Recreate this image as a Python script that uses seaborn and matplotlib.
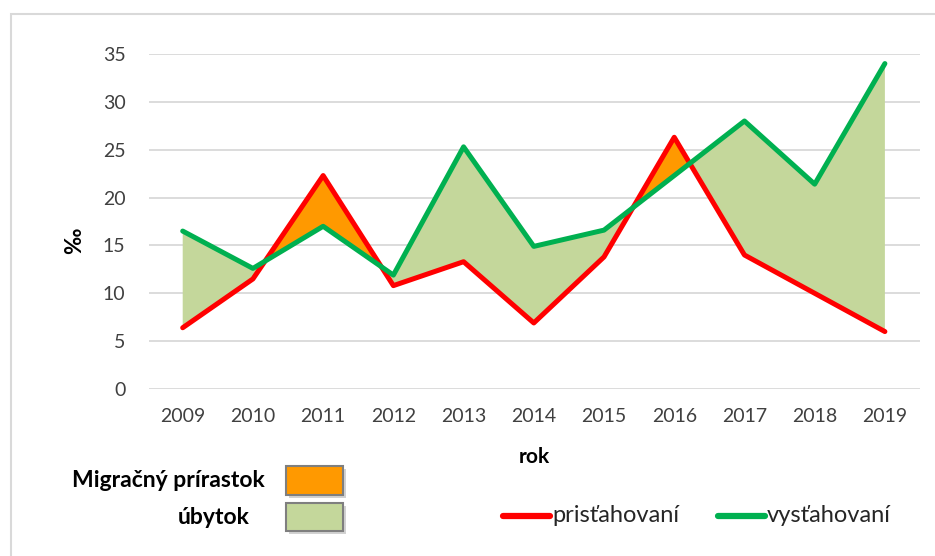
import matplotlib
matplotlib.use("Agg")
import matplotlib.pyplot as plt
import seaborn as sns
import pandas as pd
from matplotlib.patches import Rectangle
from matplotlib.lines import Line2D

# hodnoty odčítané z grafu (‰)
roky = [2009, 2010, 2011, 2012, 2013, 2014, 2015, 2016, 2017, 2018, 2019]
pristahovani = [6.4, 11.5, 22.3, 10.8, 13.3, 6.9, 13.8, 26.3, 14.0, 10.0, 6.0]
vystahovani = [16.5, 12.6, 17.0, 11.9, 25.3, 14.9, 16.6, 22.3, 28.0, 21.4, 34.0]
y_ticks = [0, 5, 10, 15, 20, 25, 30, 35]

nazvy = ["prisťahovaní", "vysťahovaní"]
farby = {"prisťahovaní": "#FF0000", "vysťahovaní": "#00B050"}
c_prirastok = "#FF9900"
c_ubytok = "#C4D79B"

df = pd.DataFrame({"rok": roky * 2,
                   "hodnota": pristahovani + vystahovani,
                   "typ": [nazvy[0]] * len(roky) + [nazvy[1]] * len(roky)})

sns.set_theme(style="white")
plt.rcParams["font.family"] = ["Lato", "DejaVu Sans"]

fig = plt.figure(figsize=(9.35, 5.56), dpi=100)
ax = fig.add_axes([149 / 935, 1 - 389 / 556, (920 - 149) / 935, (389 - 54) / 556])

# výplne medzi krivkami
ax.fill_between(roky, pristahovani, vystahovani,
                where=[v >= p for p, v in zip(pristahovani, vystahovani)],
                interpolate=True, color=c_ubytok, lw=0, zorder=1)
ax.fill_between(roky, pristahovani, vystahovani,
                where=[p >= v for p, v in zip(pristahovani, vystahovani)],
                interpolate=True, color=c_prirastok, lw=0, zorder=1)

sns.lineplot(data=df, x="rok", y="hodnota", hue="typ", hue_order=nazvy,
             palette=farby, lw=3.6, legend=False, ax=ax, zorder=3)

ax.set_xlim(2008.52, 2019.5)
ax.set_ylim(0, 35)
ax.set_xticks(roky)
ax.set_yticks(y_ticks)
ax.grid(axis="y", color="#D9D9D9", lw=1.3, zorder=0)
ax.grid(axis="x", visible=False)
for s in ax.spines.values():
    s.set_visible(False)
ax.tick_params(axis="both", length=0, labelsize=14, colors="#404040")
ax.tick_params(axis="y", pad=17)
ax.tick_params(axis="x", pad=14)
ax.set_xlabel("")
ax.set_ylabel("")

# popisy osí
fig.text(534 / 935, 1 - 457 / 556, "rok", ha="center", va="center",
         fontsize=15, fontweight="bold", color="black")
fig.text(75 / 935, 1 - 241 / 556, "‰", ha="center", va="center", rotation=90,
         fontsize=16, fontweight="bold", color="black")

# rámik grafu
fig.add_artist(Rectangle((11 / 935, -0.2), 1.2, 1.2 - 14 / 556, transform=fig.transFigure,
                         fill=False, ec="#D9D9D9", lw=1.5))

# legenda – migračný prírastok / úbytok
for y0, y1, farba, text, tx in [(466, 495, c_prirastok, "Migračný prírastok", 265),
                                (503, 531, c_ubytok, "úbytok", 250)]:
    fig.add_artist(Rectangle((289 / 935, 1 - (y1 + 3) / 556), 57 / 935, (y1 - y0) / 556,
                             transform=fig.transFigure, fc="#BFBFBF", ec="none", alpha=0.7))
    fig.add_artist(Rectangle((286 / 935, 1 - y1 / 556), 57 / 935, (y1 - y0) / 556,
                             transform=fig.transFigure, fc=farba, ec="#7F7F7F", lw=1.5))
    fig.text(tx / 935, 1 - (y0 + y1) / 2 / 556, text, ha="right", va="center",
             fontsize=16.5, fontweight="bold", color="black")

# legenda – čiary
for x0, nazov in [(503, nazvy[0]), (718, nazvy[1])]:
    fig.add_artist(Line2D([x0 / 935, (x0 + 47) / 935], [1 - 516 / 556] * 2,
                          transform=fig.transFigure, color=farby[nazov], lw=4.5,
                          solid_capstyle="round"))
    fig.text((x0 + 49) / 935, 1 - 516 / 556, nazov, ha="left", va="center",
             fontsize=17, color="#262626")

fig.savefig("out.png", dpi=100)
